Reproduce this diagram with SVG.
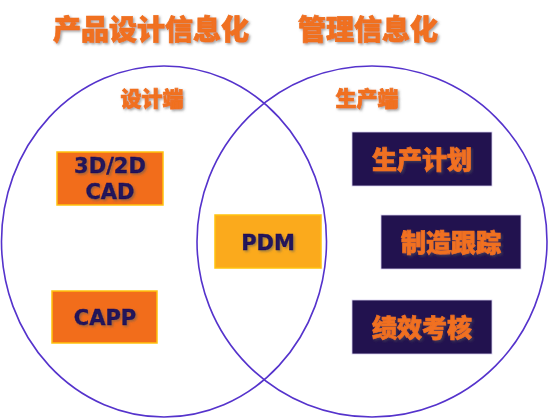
<svg xmlns="http://www.w3.org/2000/svg" width="550" height="419" viewBox="0 0 550 419">
<defs>
<filter id="sh" x="-20%" y="-20%" width="140%" height="140%">
<feDropShadow dx="1.5" dy="1.5" stdDeviation="0.8" flood-color="#555" flood-opacity="0.55"/>
</filter>
<style>
.ring{fill:none;stroke:#5533cc;stroke-width:1.6}
.zh{font-family:"Noto Sans CJK SC","Noto Sans",sans-serif;font-weight:900;fill:#f07020;stroke:#f07020;stroke-width:0.7;text-anchor:middle}
.lat{font-family:"DejaVu Sans",sans-serif;font-weight:bold;fill:#22125a;stroke:#22125a;stroke-width:0.4;text-anchor:middle;font-size:21px}
.org{fill:#f26d1b;stroke:#ffc20e;stroke-width:1.5}
.amb{fill:#fbaa1c;stroke:#ffc20e;stroke-width:1.5}
.dark{fill:#22124f;stroke:#d8d0f0;stroke-width:0.8}
</style>
</defs>
<rect width="550" height="419" fill="#ffffff"/>
<g id="titles">
<text class="zh" x="151" y="40" font-size="28" filter="url(#sh)">产品设计信息化</text>
<text class="zh" x="368" y="40" font-size="28" filter="url(#sh)">管理信息化</text>
</g>
<g id="connectors">
<ellipse class="ring" cx="164" cy="241.5" rx="162.5" ry="175.5"/>
<ellipse class="ring" cx="372" cy="241.5" rx="175" ry="175.5"/>
</g>
<g id="label-design">
<text class="zh" x="152" y="106" font-size="21" filter="url(#sh)">设计端</text>
</g>
<g id="label-production">
<text class="zh" x="367" y="106" font-size="21" filter="url(#sh)">生产端</text>
</g>
<g id="node-cad">
<rect class="org" x="57" y="152" width="106" height="53"/>
<text class="lat" x="110" y="173" filter="url(#sh)">3D/2D</text>
<text class="lat" x="110" y="199" filter="url(#sh)">CAD</text>
</g>
<g id="node-capp">
<rect class="org" x="52" y="291" width="105" height="52"/>
<text class="lat" x="105" y="325" filter="url(#sh)">CAPP</text>
</g>
<g id="node-pdm">
<rect class="amb" x="215" y="215" width="106" height="53"/>
<text class="lat" x="268" y="250" filter="url(#sh)">PDM</text>
</g>
<g id="node-plan">
<rect class="dark" x="352" y="132" width="140" height="54"/>
<text class="zh" x="422" y="169" font-size="25" filter="url(#sh)">生产计划</text>
</g>
<g id="node-track">
<rect class="dark" x="381" y="215" width="140" height="54"/>
<text class="zh" x="451" y="252" font-size="25" filter="url(#sh)">制造跟踪</text>
</g>
<g id="node-perf">
<rect class="dark" x="352" y="300" width="140" height="54"/>
<text class="zh" x="422" y="337" font-size="25" filter="url(#sh)">绩效考核</text>
</g>
</svg>
